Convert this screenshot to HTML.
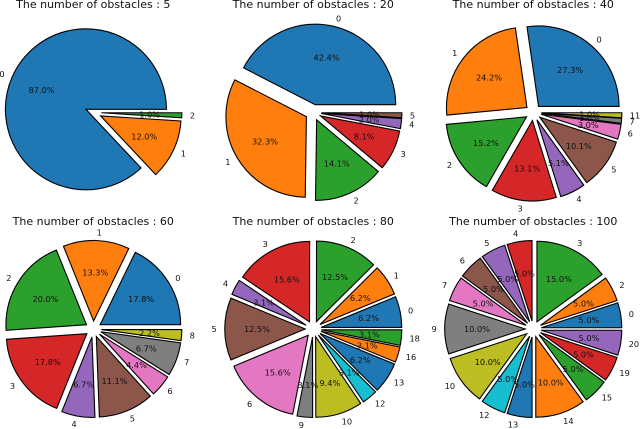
<!DOCTYPE html>
<html>
<head>
<meta charset="utf-8">
<title>Pie charts by number of obstacles</title>
<style>
html,body{margin:0;padding:0;background:#fff;}
svg{display:block;filter:blur(0.35px);}
text{font-family:"DejaVu Sans","Liberation Sans",sans-serif;fill:#111;}
</style>
</head>
<body>
<svg id="chart" xmlns="http://www.w3.org/2000/svg" width="640" height="429" viewBox="0 0 640 429"></svg>
<script>
const obstacleCounts = [5, 20, 40, 60, 80, 100];

const labels5 = ['0', '1', '2'];
const values5 = [87.0, 12.0, 1.0];

const labels20 = ['0', '1', '2', '3', '4', '5'];
const values20 = [42.4, 32.3, 14.1, 8.1, 2.0, 1.0];

const labels40 = ['0', '1', '2', '3', '4', '5', '6', '7', '11'];
const values40 = [27.3, 24.2, 15.2, 13.1, 5.1, 10.1, 3.0, 1.0, 1.0];

const labels60 = ['0', '1', '2', '3', '4', '5', '6', '7', '8'];
const values60 = [17.8, 13.3, 20.0, 17.8, 6.7, 11.1, 4.4, 6.7, 2.2];

const labels80 = ['0', '1', '2', '3', '4', '5', '6', '9', '10', '12', '13', '16', '18'];
const values80 = [6.2, 6.2, 12.5, 15.6, 3.1, 12.5, 15.6, 3.1, 9.4, 3.1, 6.2, 3.1, 3.1];

const labels100 = ['0', '2', '3', '4', '5', '6', '7', '9', '10', '12', '13', '14', '15', '19', '20'];
const values100 = [5.0, 5.0, 15.0, 5.0, 5.0, 5.0, 5.0, 10.0, 10.0, 5.0, 5.0, 10.0, 5.0, 5.0, 5.0];

const palette = ['#1f77b4', '#ff7f0e', '#2ca02c', '#d62728', '#9467bd', '#8c564b', '#e377c2', '#7f7f7f', '#bcbd22', '#17becf'];

const allLabels = [labels5, labels20, labels40, labels60, labels80, labels100];
const allValues = [values5, values20, values40, values60, values80, values100];

const svgNS = 'http://www.w3.org/2000/svg';
const svg = document.getElementById('chart');
const RADIUS = 80.5;
const EXPLODE = 0.1;
const LABEL_DIST = 1.1;
const PCT_DIST = 0.6;

function paneCenter(i) {
  const col = i % 3;
  const row = Math.floor(i / 3);
  return { x: 93.3 + col * 220, y: row === 0 ? 112.5 : 329, titleY: row === 0 ? 8 : 225 };
}

function makeText(parent, x, y, str, size, anchor) {
  const t = document.createElementNS(svgNS, 'text');
  t.setAttribute('x', x.toFixed(2));
  t.setAttribute('y', y.toFixed(2));
  t.setAttribute('font-size', size);
  t.setAttribute('text-anchor', anchor);
  t.textContent = str;
  parent.appendChild(t);
  return t;
}

function drawPie(i) {
  const values = allValues[i];
  const labels = allLabels[i];
  const c = paneCenter(i);
  const total = values.reduce(function (a, b) { return a + b; }, 0);

  const g = document.createElementNS(svgNS, 'g');
  
  
  svg.appendChild(g);

  const title = makeText(g, c.x, c.titleY, 'The number of obstacles : ' + obstacleCounts[i], 11, 'middle');
  
  

  let cumulative = 0;
  const texts = [];
  values.forEach(function (v, k) {
    const a0 = cumulative / total * 2 * Math.PI;
    cumulative += v;
    const a1 = cumulative / total * 2 * Math.PI;
    const mid = (a0 + a1) / 2;
    const cx = c.x + EXPLODE * RADIUS * Math.cos(mid);
    const cy = c.y - EXPLODE * RADIUS * Math.sin(mid);
    const x0 = cx + RADIUS * Math.cos(a0);
    const y0 = cy - RADIUS * Math.sin(a0);
    const x1 = cx + RADIUS * Math.cos(a1);
    const y1 = cy - RADIUS * Math.sin(a1);
    const large = (a1 - a0) > Math.PI ? 1 : 0;

    const p = document.createElementNS(svgNS, 'path');
    p.setAttribute('d', 'M' + cx.toFixed(2) + ' ' + cy.toFixed(2) +
      'L' + x0.toFixed(2) + ' ' + y0.toFixed(2) +
      'A' + RADIUS + ' ' + RADIUS + ' 0 ' + large + ' 0 ' + x1.toFixed(2) + ' ' + y1.toFixed(2) + 'Z');
    p.setAttribute('fill', palette[k % palette.length]);
    p.setAttribute('stroke', '#000');
    p.setAttribute('stroke-width', '1.1');
    p.setAttribute('stroke-linejoin', 'miter');
    
    
    g.appendChild(p);

    texts.push({ cx: cx, cy: cy, mid: mid, v: v, label: labels[k] });
  });

  texts.forEach(function (d) {
    const lx = d.cx + LABEL_DIST * RADIUS * Math.cos(d.mid);
    const ly = d.cy - LABEL_DIST * RADIUS * Math.sin(d.mid);
    const lab = makeText(g, lx, ly + 3, d.label, 8.2, lx > d.cx ? 'start' : 'end');
    
    

    const px = d.cx + PCT_DIST * RADIUS * Math.cos(d.mid);
    const py = d.cy - PCT_DIST * RADIUS * Math.sin(d.mid);
    const pct = makeText(g, px, py + 3, d.v.toFixed(1) + '%', 8.2, 'middle');
    
    
  });
}

obstacleCounts.forEach(function (n, i) { drawPie(i); });
</script>
</body>
</html>
